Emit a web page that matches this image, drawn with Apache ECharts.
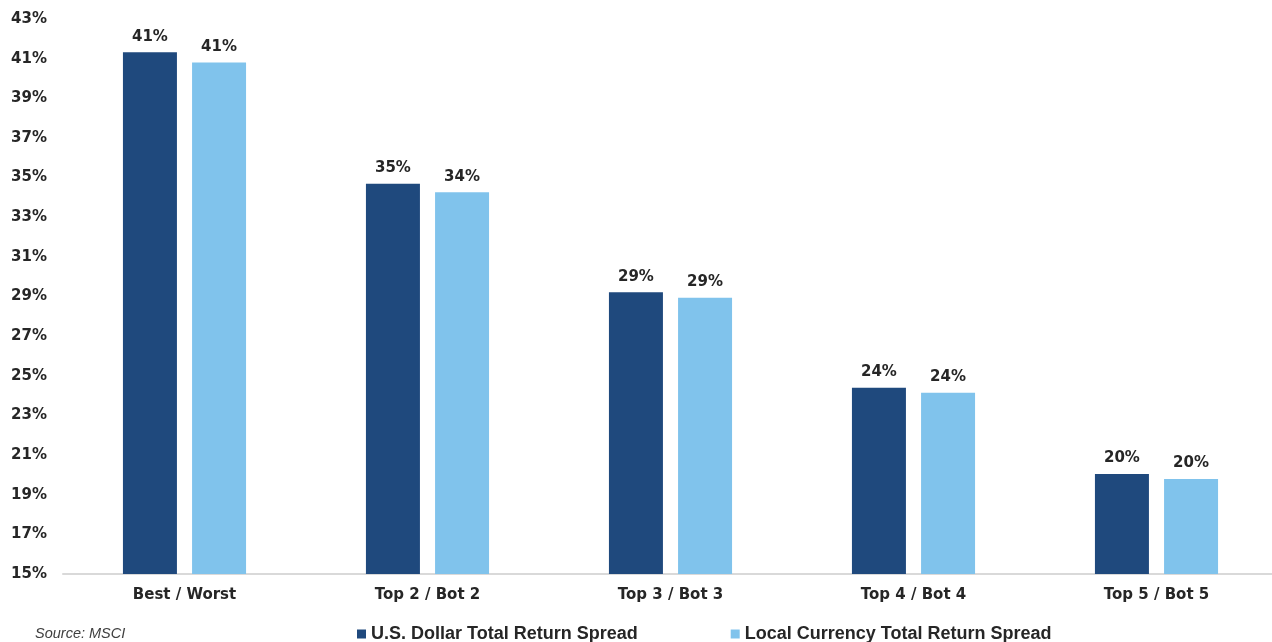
<!DOCTYPE html>
<html>
<head>
<meta charset="utf-8">
<title>Return Spread</title>
<script src="https://cdn.jsdelivr.net/npm/echarts@6/dist/echarts.min.js"></script>
<style>
  html, body { margin: 0; padding: 0; background: #ffffff; overflow: hidden; }
  #chart { width: 1280px; height: 642px; }
</style>
</head>
<body>
<div id="chart"></div>
<script>
// Spread between best and worst performing markets, in percent
const categories = ['Best / Worst', 'Top 2 / Bot 2', 'Top 3 / Bot 3', 'Top 4 / Bot 4', 'Top 5 / Bot 5'];
const usdSpread = [41.32, 34.69, 29.21, 24.40, 20.05];
const localSpread = [40.80, 34.26, 28.94, 24.15, 19.79];
const seriesNames = ['U.S. Dollar Total Return Spread', 'Local Currency Total Return Spread'];
const sourceNote = 'Source: MSCI';

const textColor = '#262626';
const labelFont = { fontFamily: 'DejaVu Sans', fontWeight: 'bold', fontSize: 15, color: textColor };

const chart = echarts.init(document.getElementById('chart'));

const barLabel = {
  show: true,
  position: 'top',
  distance: 8,
  ...labelFont,
  formatter: p => Math.round(p.value) + '%'
};

chart.setOption({
  animation: false,
  backgroundColor: '#ffffff',
  grid: { left: 63, right: 2, top: 19, bottom: 68, containLabel: false },
  xAxis: {
    type: 'category',
    data: categories,
    axisLine: { lineStyle: { color: '#d9d9d9', width: 2 } },
    axisTick: { show: false },
    axisLabel: { margin: 14, ...labelFont }
  },
  yAxis: {
    type: 'value',
    min: 15,
    max: 43,
    interval: 2,
    axisLine: { show: false },
    axisTick: { show: false },
    splitLine: { show: false },
    axisLabel: { margin: 16, formatter: '{value}%', ...labelFont }
  },
  legend: {
    left: 352,
    top: 620,
    itemWidth: 9,
    itemHeight: 9,
    itemGap: 93,
    icon: 'rect',
    textStyle: { fontFamily: 'Liberation Sans', fontWeight: 'bold', fontSize: 18, color: textColor }
  },
  graphic: [{
    type: 'text',
    left: 35,
    top: 626,
    style: { text: sourceNote, fontFamily: 'Liberation Sans', fontStyle: 'italic', fontSize: 14.5, fill: '#404040' }
  }],
  series: [
    {
      name: seriesNames[0],
      type: 'bar',
      data: usdSpread,
      barWidth: 54,
      barGap: '28%',
      itemStyle: { color: '#1f497d' },
      label: barLabel
    },
    {
      name: seriesNames[1],
      type: 'bar',
      data: localSpread,
      barWidth: 54,
      itemStyle: { color: '#80c3ec' },
      label: barLabel
    }
  ]
});
</script>
</body>
</html>
